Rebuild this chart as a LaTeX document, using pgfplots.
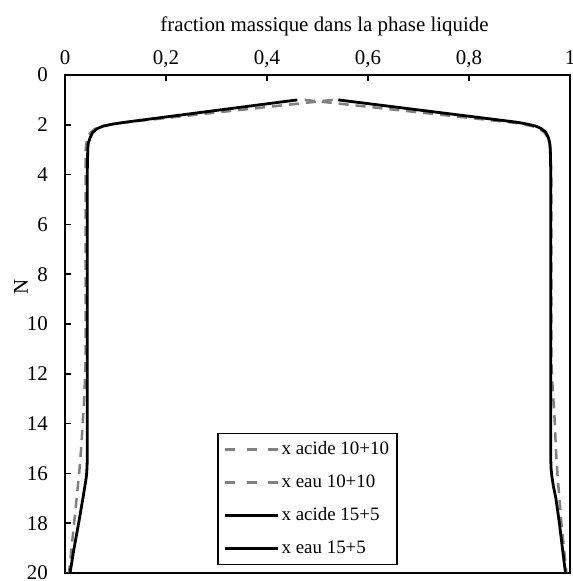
\documentclass[border=0pt]{standalone}
\usepackage{fontspec}
\setmainfont{Liberation Serif}
\usepackage{pgfplots}
\pgfplotsset{compat=1.18}
\definecolor{dgray}{RGB}{128,128,128}
\pgfplotsset{dashleg/.style={legend image code/.code={\draw[##1, dash pattern=on 10bp off 11.5bp] (0bp,0bp) -- (53bp,0bp);}}}

% N = plateau, x = fraction massique
\pgfplotstableread{
N x
1 0.530
1.92 0.112
1.99 0.090
2.07 0.071
2.17 0.059
2.32 0.050
2.52 0.045
2.77 0.042
3 0.041
4 0.041
6 0.041
8 0.041
10 0.041
11 0.041
12 0.040
13 0.038
14 0.035
15 0.032
16 0.028
17 0.023
18 0.018
19 0.013
20 0.008
}\acideA
\pgfplotstableread{
N x
1 0.475
1.92 0.890
1.99 0.910
2.07 0.928
2.17 0.940
2.32 0.950
2.52 0.956
2.77 0.960
3 0.961
4 0.963
6 0.963
8 0.963
10 0.963
11 0.963
12 0.964
13 0.967
14 0.970
15 0.972
16 0.975
17 0.979
18 0.983
19 0.988
20 0.993
}\eauA
\pgfplotstableread{
N x
1 0.460
1.90 0.118
1.97 0.095
2.05 0.076
2.15 0.064
2.30 0.055
2.50 0.050
2.75 0.046
3 0.045
4 0.044
6 0.044
8 0.044
10 0.044
12 0.044
14 0.044
15.5 0.044
15.8 0.0435
16.1 0.0425
16.5 0.0395
17 0.0355
18 0.027
19 0.018
20 0.010
}\acideB
\pgfplotstableread{
N x
1 0.541
1.90 0.896
1.97 0.915
2.05 0.932
2.15 0.943
2.30 0.952
2.50 0.957
2.75 0.960
3 0.961
4 0.962
6 0.962
8 0.962
10 0.962
12 0.962
14 0.962
15.5 0.962
15.8 0.9625
16.1 0.964
16.5 0.967
17 0.972
18 0.979
19 0.985
20 0.991
}\eauB

\begin{document}
\fontsize{21}{23}\selectfont
\begin{tikzpicture}
\begin{axis}[
  scale only axis,
  width=505bp, height=498bp,
  xmin=0, xmax=1, ymin=0, ymax=20,
  y dir=reverse,
  xtick={0,0.2,0.4,0.6,0.8,1},
  ytick={0,2,4,6,8,10,12,14,16,18,20},
  xtick pos=right, xticklabel pos=right, ytick pos=left,
  tick align=inside,
  major tick length=6bp,
  axis line style={line width=1.5bp},
  every tick/.style={line width=1.5bp, black},
  /pgf/number format/use comma,
  /pgf/number format/assume math mode=true,
  tick label style={font=\fontsize{21}{23}\selectfont},
  xticklabel style={anchor=base, yshift=11bp},
  yticklabel style={anchor=east, xshift=-10bp},
  xlabel={fraction massique dans la phase liquide},
  ylabel={N},
  xlabel style={at={(axis description cs:0.5,1)}, anchor=base, xshift=7bp, yshift=44bp, font=\fontsize{21}{23}\selectfont},
  ylabel style={at={(axis description cs:-0.087,0.574)}, anchor=center, font=\fontsize{21}{23}\selectfont},
  legend style={at={(0.48,0.016)}, anchor=south, draw=black, line width=1.5bp,
    font=\fontsize{19}{21}\selectfont, row sep=13bp, inner xsep=6bp, inner ysep=6bp},
  legend cell align=left,
  legend image code/.code={\draw[#1] (0bp,0bp) -- (53bp,0bp);},
]
\addplot[dgray, line width=2.5bp, dash pattern=on 10bp off 7bp, line join=round, dashleg] table[x=x,y=N] {\acideA};
\addplot[dgray, line width=2.5bp, dash pattern=on 10bp off 7bp, line join=round, dashleg] table[x=x,y=N] {\eauA};
\addplot[black, line width=2.8bp, line join=round] table[x=x,y=N] {\acideB};
\addplot[black, line width=2.8bp, line join=round] table[x=x,y=N] {\eauB};
\legend{x acide 10+10, x eau 10+10, x acide 15+5, x eau 15+5}
\end{axis}
\path (current axis.south west) ++(-65bp,-8bp) coordinate (bl);
\path (current axis.north east) ++(3bp,75bp) coordinate (tr);
\pgfresetboundingbox
\useasboundingbox (bl) rectangle (tr);
\end{tikzpicture}
\end{document}
